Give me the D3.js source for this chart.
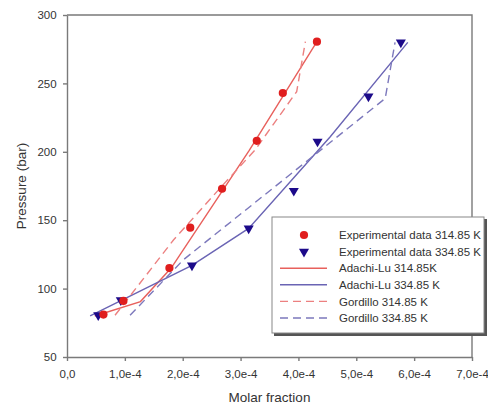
<!DOCTYPE html>
<html>
<head>
<meta charset="utf-8">
<script src="https://cdn.jsdelivr.net/npm/d3@7"></script>
<style>
  html, body { margin: 0; padding: 0; background: #fff; }
  svg { display: block; font-family: "Liberation Sans", Arial, sans-serif; }
</style>
</head>
<body>
<svg id="chart" width="488" height="405"></svg>
<script>
// Experimental solubility points (molar fraction, pressure in bar)
const exp314X = [0.63e-4, 0.975e-4, 1.77e-4, 2.13e-4, 2.68e-4, 3.28e-4, 3.73e-4, 4.32e-4];
const exp314P = [81, 91, 115, 144.5, 173, 208, 243, 280.5];
const exp334X = [0.54e-4, 0.93e-4, 2.16e-4, 3.14e-4, 3.92e-4, 4.33e-4, 5.21e-4, 5.77e-4];
const exp334P = [80.5, 91.5, 117, 144, 171.5, 207.5, 240.5, 280];

// Model curves
const adachi314X = [0.48e-4, 1.27e-4, 1.80e-4, 3.15e-4, 4.32e-4];
const adachi314P = [80, 90.5, 115, 201, 280.5];
const adachi334X = [0.40e-4, 2.16e-4, 3.14e-4, 4.55e-4, 5.89e-4];
const adachi334P = [80, 117, 144, 211, 280];
const gordillo314X = [0.83e-4, 1.84e-4, 2.70e-4, 3.25e-4, 3.97e-4, 4.12e-4];
const gordillo314P = [80.5, 135.5, 176, 201.3, 244, 280.5];
const gordillo334X = [1.09e-4, 2.01e-4, 5.50e-4, 5.67e-4];
const gordillo334P = [80.5, 121, 239, 280];

// Axis ticks
const xTicks = [0, 1e-4, 2e-4, 3e-4, 4e-4, 5e-4, 6e-4, 7e-4];
const xTickLabels = ["0,0", "1,0e-4", "2,0e-4", "3,0e-4", "4,0e-4", "5,0e-4", "6,0e-4", "7,0e-4"];
const yTicks = [50, 100, 150, 200, 250, 300];

const legendLabels = [
  "Experimental data 314.85 K",
  "Experimental data 334.85 K",
  "Adachi-Lu 314.85K",
  "Adachi-Lu 334.85 K",
  "Gordillo 314.85 K",
  "Gordillo 334.85 K"
];

const red = "#e01e1e", redLine = "#e8605c", redDash = "#ec8080";
const navy = "#1c0a8a", blueLine = "#6a64b4", blueDash = "#7c78bc";
const axisColor = "#7a7a7a", textColor = "#333";

const svg = d3.select("#chart");
const x = d3.scaleLinear().domain([0, 7e-4]).range([67, 472]);
const y = d3.scaleLinear().domain([50, 300]).range([357, 15]);

// Frame (top and right)
svg.append("path")
  .attr("d", `M${x(0)},${y(300)}H${x(7e-4)}V${y(50)}`)
  .attr("fill", "none").attr("stroke", axisColor).attr("stroke-width", 1.4);

// Axes
const xAxis = svg.append("g").attr("transform", `translate(0,${y(50)})`)
  .call(d3.axisBottom(x).tickValues(xTicks).tickSize(4).tickSizeOuter(0)
    .tickFormat((d, i) => xTickLabels[i]));
const yAxis = svg.append("g").attr("transform", `translate(${x(0)},0)`)
  .call(d3.axisLeft(y).tickValues(yTicks).tickSize(4).tickSizeOuter(0));
[xAxis, yAxis].forEach(g => {
  g.selectAll("path, line").attr("stroke", axisColor).attr("stroke-width", 1.4);
  g.selectAll("text").attr("fill", textColor).attr("font-size", 11.5)
    .attr("font-family", "Liberation Sans, Arial, sans-serif");
});
xAxis.selectAll("text").attr("dy", "1.25em");
yAxis.selectAll("text").attr("dx", "-0.3em");

// Axis titles
svg.append("text").attr("x", (x(0) + x(7e-4)) / 2).attr("y", 402)
  .attr("text-anchor", "middle").attr("font-size", 13.5).attr("fill", textColor)
  .text("Molar fraction");
svg.append("text")
  .attr("transform", `translate(26,${(y(50) + y(300)) / 2}) rotate(-90)`)
  .attr("text-anchor", "middle").attr("font-size", 13.5).attr("fill", textColor)
  .text("Pressure (bar)");

// Model curves
const line = d3.line().x(d => x(d[0])).y(d => y(d[1]));
const curves = [
  { xs: adachi314X, ps: adachi314P, color: redLine, dash: null },
  { xs: adachi334X, ps: adachi334P, color: blueLine, dash: null },
  { xs: gordillo314X, ps: gordillo314P, color: redDash, dash: "8,5" },
  { xs: gordillo334X, ps: gordillo334P, color: blueDash, dash: "8,5" }
];
curves.forEach(c => {
  svg.append("path")
    .datum(c.xs.map((v, i) => [v, c.ps[i]]))
    .attr("d", line)
    .attr("fill", "none").attr("stroke", c.color).attr("stroke-width", 1.4)
    .attr("stroke-dasharray", c.dash);
});

// Experimental markers
const tri = d3.symbol().type(d3.symbolTriangle).size(44);
svg.append("g").selectAll("path")
  .data(exp334X.map((v, i) => [v, exp334P[i]]))
  .join("path")
  .attr("d", tri)
  .attr("transform", d => `translate(${x(d[0])},${y(d[1])}) rotate(180)`)
  .attr("fill", navy);
svg.append("g").selectAll("circle")
  .data(exp314X.map((v, i) => [v, exp314P[i]]))
  .join("circle")
  .attr("cx", d => x(d[0])).attr("cy", d => y(d[1])).attr("r", 4.1)
  .attr("fill", red);

// Legend
const lg = svg.append("g");
lg.append("rect").attr("x", 274).attr("y", 219).attr("width", 213).attr("height", 117)
  .attr("fill", "#555");
lg.append("rect").attr("x", 272).attr("y", 217).attr("width", 212).attr("height", 116)
  .attr("fill", "#fff").attr("stroke", "#888").attr("stroke-width", 1);
const rowY = i => 235 + i * 16.6;
legendLabels.forEach((lab, i) => {
  const yy = rowY(i);
  if (i === 0) {
    lg.append("circle").attr("cx", 304).attr("cy", yy).attr("r", 4.1).attr("fill", red);
  } else if (i === 1) {
    lg.append("path").attr("d", tri).attr("transform", `translate(304,${yy}) rotate(180)`)
      .attr("fill", navy);
  } else {
    const c = curves[i - 2];
    lg.append("line").attr("x1", 280).attr("x2", 327).attr("y1", yy).attr("y2", yy)
      .attr("stroke", c.color).attr("stroke-width", 1.4).attr("stroke-dasharray", c.dash);
  }
  lg.append("text").attr("x", 339).attr("y", yy).attr("dy", "0.36em")
    .attr("font-size", 11.5).attr("fill", textColor).text(lab);
});
</script>
</body>
</html>
